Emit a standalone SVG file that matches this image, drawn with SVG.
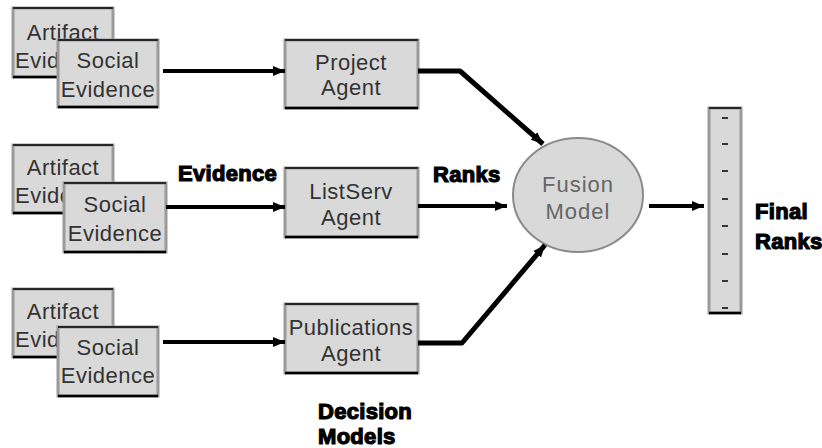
<svg xmlns="http://www.w3.org/2000/svg" width="822" height="448" viewBox="0 0 822 448">
<defs>
<style>
.bx{fill:#d9d9d9;stroke:#9a9a9a;stroke-width:3}
.tb{stroke:#000;stroke-width:1.5}
.bb{stroke:#000;stroke-width:2.5}
.t{font-family:"Liberation Sans",Arial,sans-serif;font-size:22px;letter-spacing:0.5px;fill:#333;text-anchor:middle}
.tl{font-family:"Liberation Sans",Arial,sans-serif;font-size:22px;letter-spacing:0.5px;fill:#333}
.f{font-family:"Liberation Sans",Arial,sans-serif;font-size:22px;letter-spacing:1px;fill:#666;text-anchor:middle}
.lb{font-family:"Liberation Sans",Arial,sans-serif;font-size:22px;font-weight:bold;letter-spacing:0.3px;fill:#000;stroke:#000;stroke-width:1.2}
.c{fill:none;stroke:#000;stroke-width:4}
.d{fill:none;stroke:#000;stroke-width:5;stroke-linejoin:round}
.dash{stroke:#000;stroke-width:1.5}
</style>
<marker id="ah" markerUnits="userSpaceOnUse" markerWidth="14" markerHeight="12" refX="12" refY="6" orient="auto">
<path d="M0,1 L12,6 L0,11 Z" fill="#000"/>
</marker>
</defs>
<rect width="822" height="448" fill="#fff"/>

<g id="artifact1">
<rect class="bx" x="13" y="8" width="100" height="69"/>
<line class="tb" x1="13" y1="8" x2="113" y2="8"/><line class="bb" x1="13" y1="77" x2="113" y2="77"/>
<text class="t" x="63" y="40">Artifact</text><text class="tl" x="15" y="68">Evid</text>
</g>
<g id="social1">
<rect class="bx" x="58" y="40" width="100" height="67"/>
<line class="tb" x1="58" y1="40" x2="158" y2="40"/><line class="bb" x1="58" y1="107" x2="158" y2="107"/>
<text class="t" x="108" y="68">Social</text><text class="t" x="108" y="97">Evidence</text>
</g>

<g id="artifact2">
<rect class="bx" x="13" y="145" width="100" height="68"/>
<line class="tb" x1="13" y1="145" x2="113" y2="145"/><line class="bb" x1="13" y1="213" x2="113" y2="213"/>
<text class="t" x="63" y="175">Artifact</text><text class="tl" x="15" y="203">Evide</text>
</g>
<g id="social2">
<rect class="bx" x="64" y="183" width="102" height="69"/>
<line class="tb" x1="64" y1="183" x2="166" y2="183"/><line class="bb" x1="64" y1="252" x2="166" y2="252"/>
<text class="t" x="115" y="212">Social</text><text class="t" x="115" y="241">Evidence</text>
</g>

<g id="artifact3">
<rect class="bx" x="13" y="289" width="100" height="68"/>
<line class="tb" x1="13" y1="289" x2="113" y2="289"/><line class="bb" x1="13" y1="357" x2="113" y2="357"/>
<text class="t" x="63" y="319">Artifact</text><text class="tl" x="15" y="347">Evid</text>
</g>
<g id="social3">
<rect class="bx" x="58" y="327" width="100" height="69"/>
<line class="tb" x1="58" y1="327" x2="158" y2="327"/><line class="bb" x1="58" y1="396" x2="158" y2="396"/>
<text class="t" x="108" y="355">Social</text><text class="t" x="108" y="383">Evidence</text>
</g>

<g id="project">
<rect class="bx" x="285" y="40" width="133" height="68"/>
<line class="tb" x1="285" y1="40" x2="418" y2="40"/><line class="bb" x1="285" y1="108" x2="418" y2="108"/>
<text class="t" x="351" y="70">Project</text><text class="t" x="351" y="95">Agent</text>
</g>
<g id="listserv">
<rect class="bx" x="285" y="168" width="133" height="69"/>
<line class="tb" x1="285" y1="168" x2="418" y2="168"/><line class="bb" x1="285" y1="237" x2="418" y2="237"/>
<text class="t" x="351" y="199">ListServ</text><text class="t" x="351" y="225">Agent</text>
</g>
<g id="publications">
<rect class="bx" x="285" y="304" width="133" height="69"/>
<line class="tb" x1="285" y1="304" x2="418" y2="304"/><line class="bb" x1="285" y1="373" x2="418" y2="373"/>
<text class="t" x="351" y="335">Publications</text><text class="t" x="351" y="361">Agent</text>
</g>

<g id="fusion">
<ellipse cx="578" cy="195" rx="65" ry="57" fill="#d9d9d9" stroke="#8a8a8a" stroke-width="2"/>
<text class="f" x="578" y="192">Fusion</text><text class="f" x="578" y="219">Model</text>
</g>

<g id="finalranks">
<rect x="709" y="108" width="32" height="205" fill="#d9d9d9" stroke="#9a9a9a" stroke-width="3"/>
<line class="tb" x1="709" y1="108" x2="741" y2="108"/><line class="bb" x1="709" y1="313" x2="741" y2="313"/>
<g class="dash">
<line x1="722" y1="118" x2="728" y2="118"/><line x1="722" y1="144" x2="728" y2="144"/>
<line x1="722" y1="171" x2="728" y2="171"/><line x1="722" y1="199" x2="728" y2="199"/>
<line x1="722" y1="226" x2="728" y2="226"/><line x1="722" y1="254" x2="728" y2="254"/>
<line x1="722" y1="281" x2="728" y2="281"/><line x1="722" y1="308" x2="728" y2="308"/>
</g>
</g>

<g id="connectors">
<line class="c" x1="163" y1="71" x2="285" y2="71" marker-end="url(#ah)"/>
<line class="c" x1="166" y1="207" x2="285" y2="207" marker-end="url(#ah)"/>
<line class="c" x1="163" y1="342" x2="285" y2="342" marker-end="url(#ah)"/>
<polyline class="d" points="418,71 460,71 543,144" marker-end="url(#ah)"/>
<line class="c" x1="418" y1="206" x2="507" y2="206" marker-end="url(#ah)"/>
<polyline class="d" points="418,343 462,343 545,245" marker-end="url(#ah)"/>
<line class="c" x1="649" y1="206" x2="704" y2="206" marker-end="url(#ah)"/>
</g>

<g id="labels">
<text class="lb" x="178" y="181">Evidence</text>
<text class="lb" x="433" y="182">Ranks</text>
<text class="lb" x="318" y="419">Decision</text>
<text class="lb" x="318" y="444">Models</text>
<text class="lb" x="755" y="219">Final</text>
<text class="lb" x="755" y="249">Ranks</text>
</g>
</svg>
